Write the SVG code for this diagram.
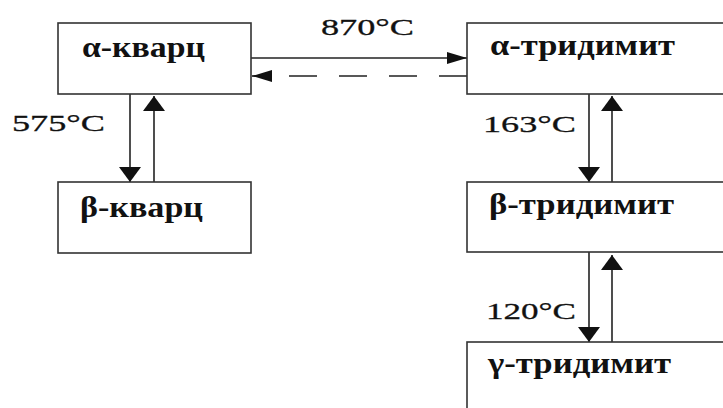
<svg xmlns="http://www.w3.org/2000/svg" width="723" height="408" viewBox="0 0 723 408">
<style>
.box{fill:#fff;stroke:#333;stroke-width:1.6}
.lbl{font-family:'Liberation Serif','Times New Roman',serif;font-size:29px;font-weight:bold;fill:#111}
.tmp{font-family:'Liberation Serif','Times New Roman',serif;font-size:24px;fill:#111;stroke:#111;stroke-width:0.3}
.ln{stroke:#222;stroke-width:1.6;fill:none}
.dash{stroke-dasharray:28 22}
</style>
<defs>
<marker id="ah" markerUnits="userSpaceOnUse" markerWidth="20" markerHeight="12" refX="20" refY="6" orient="auto">
<path d="M0,0 L20,6 L0,12 Z" fill="#111"/>
</marker>
<marker id="av" markerUnits="userSpaceOnUse" markerWidth="15" markerHeight="22" refX="15" refY="11" orient="auto">
<path d="M0,0 L15,11 L0,22 Z" fill="#111"/>
</marker>
</defs>
<rect width="723" height="408" fill="#fff"/>
<g id="connectors">
<line class="ln" x1="251" y1="58" x2="467" y2="58" marker-end="url(#ah)"/>
<line class="ln dash" x1="467" y1="76" x2="252" y2="76" marker-end="url(#ah)"/>
<line class="ln" x1="130" y1="94" x2="130" y2="182" marker-end="url(#av)"/>
<line class="ln" x1="154" y1="182" x2="154" y2="96" marker-end="url(#av)"/>
<line class="ln" x1="589" y1="94" x2="589" y2="182" marker-end="url(#av)"/>
<line class="ln" x1="612" y1="182" x2="612" y2="96" marker-end="url(#av)"/>
<line class="ln" x1="589" y1="252" x2="589" y2="342" marker-end="url(#av)"/>
<line class="ln" x1="612" y1="342" x2="612" y2="255" marker-end="url(#av)"/>
<text class="tmp" x="321" y="35" textLength="93" lengthAdjust="spacingAndGlyphs">870°C</text>
<text class="tmp" x="12" y="131" textLength="93" lengthAdjust="spacingAndGlyphs">575°C</text>
<text class="tmp" x="483" y="132" textLength="93" lengthAdjust="spacingAndGlyphs">163°C</text>
<text class="tmp" x="486" y="319" textLength="90" lengthAdjust="spacingAndGlyphs">120°C</text>
</g>
<g id="alpha-quartz">
<rect class="box" x="58" y="23" width="193" height="71"/>
<text class="lbl" x="82" y="57" textLength="123" lengthAdjust="spacingAndGlyphs">α-кварц</text>
</g>
<g id="beta-quartz">
<rect class="box" x="58" y="182" width="193" height="71"/>
<text class="lbl" x="80" y="217" textLength="123" lengthAdjust="spacingAndGlyphs">β-кварц</text>
</g>
<g id="alpha-tridymite">
<rect class="box" x="467" y="23" width="300" height="71"/>
<text class="lbl" x="490" y="55" textLength="185" lengthAdjust="spacingAndGlyphs">α-тридимит</text>
</g>
<g id="beta-tridymite">
<rect class="box" x="467" y="182" width="300" height="70"/>
<text class="lbl" x="489" y="214" textLength="185" lengthAdjust="spacingAndGlyphs">β-тридимит</text>
</g>
<g id="gamma-tridymite">
<rect class="box" x="467" y="342" width="300" height="100"/>
<text class="lbl" x="488" y="373" textLength="183" lengthAdjust="spacingAndGlyphs">γ-тридимит</text>
</g>
</svg>
